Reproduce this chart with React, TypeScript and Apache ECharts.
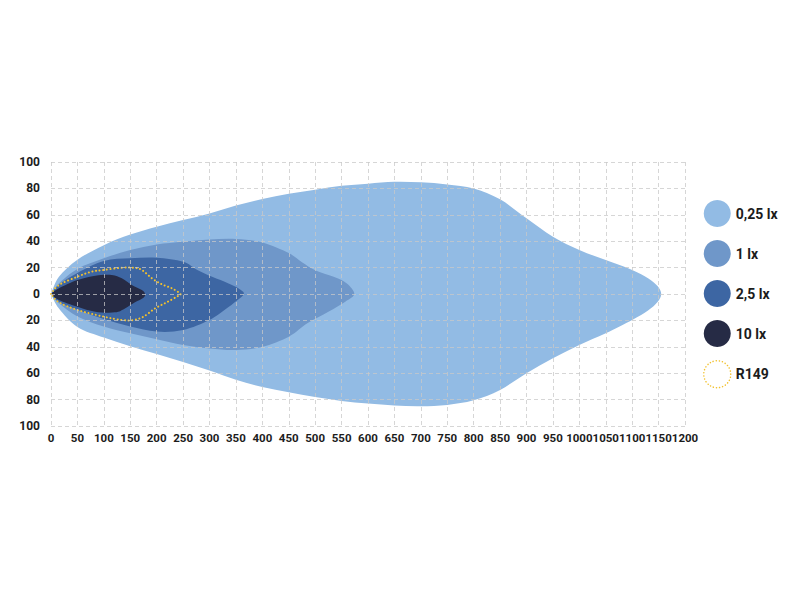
import React, { useEffect, useRef } from 'react';
import * as echarts from 'echarts';

// outlines of each isolux zone: [distance m, lateral m]
const lux025Upper = [[0, 0], [15, 13], [50, 26], [100, 37], [150, 45], [200, 51], [250, 56], [300, 61], [350, 67], [400, 72], [450, 76], [500, 79], [550, 82], [600, 83.6], [650, 85], [700, 84.6], [750, 83], [800, 80], [850, 71.7], [900, 57.3], [950, 43.4], [1000, 33.3], [1050, 25.7], [1100, 18.2], [1130, 12], [1148, 6], [1155, 0]];
const lux025Lower = [[15, -11], [50, -25], [100, -33], [150, -39.5], [200, -45.5], [250, -51.5], [300, -58], [350, -65], [400, -70.5], [450, -74.5], [500, -78], [550, -81], [600, -83], [650, -84.5], [700, -85], [750, -84], [800, -80.5], [850, -72.7], [900, -60], [950, -48.7], [1000, -38.6], [1050, -29.8], [1100, -19.7], [1130, -12.5], [1148, -6]];

const lux1Upper = [[0, 0], [15, 8], [50, 19], [100, 27], [150, 33.3], [200, 37.5], [250, 39.6], [300, 41.3], [350, 41.7], [400, 39], [450, 31], [475, 24], [500, 18], [535, 13], [560, 8], [574, 0]];
const lux1Lower = [[15, -7], [50, -17], [100, -24.7], [150, -29.8], [200, -34.3], [250, -38.6], [300, -41.2], [350, -42.4], [400, -40], [450, -32.3], [486, -22], [525, -13.4], [557, -5.8]];

const lux25Upper = [[0, 0], [15, 7], [50, 16], [100, 25], [150, 27], [200, 27.5], [250, 24.5], [277, 18.2], [305, 13], [336, 8], [358, 3.5], [365, 0]];
const lux25Lower = [[15, -6], [50, -12], [100, -19], [150, -24.7], [200, -28.5], [250, -27.3], [300, -19.7], [329, -12], [352, -5]];

const lux10Upper = [[0, 0], [15, 4.3], [50, 10.6], [84, 13.9], [115, 14.4], [134, 11.9], [153, 6.8], [172, 3], [178, 0]];
const lux10Lower = [[15, -4.5], [50, -9.6], [84, -13.4], [121, -13.9], [140, -10.9], [159, -6.3], [175, -2.8]];

const r149Upper = [[0, 0], [15, 6.8], [50, 13.1], [77, 16.9], [100, 18.2], [134, 19.9], [156, 19.9], [172, 18.2], [191, 11.9], [210, 7.3], [229, 4.3], [245, 0]];
const r149Lower = [[15, -6.3], [50, -12.1], [100, -17.2], [134, -19.7], [156, -19.7], [175, -17.2], [197, -10.9], [219, -6.3], [238, -2]];

const zoneNames = ['0,25 lx', '1 lx', '2,5 lx', '10 lx', 'R149'];
const zoneColors = ['#92bbe4', '#6f97c9', '#3d66a3', '#262b45', '#f2c12e'];

const font = "Roboto, 'DejaVu Sans Condensed', sans-serif";

// closed loop starting and ending at the lamp (origin), sharp there, round at the far tip
const outline = (upper: number[][], lower: number[][]) => [...upper, ...lower.slice().reverse(), upper[0]];

// catmull-rom through pixel points -> svg path
const smoothPath = (pts: number[][]) => {
  let d = `M${pts[0][0]},${pts[0][1]}`;
  for (let i = 0; i < pts.length - 1; i++) {
    const p0 = pts[i - 1] || pts[i];
    const p1 = pts[i];
    const p2 = pts[i + 1];
    const p3 = pts[i + 2] || p2;
    const c1x = p1[0] + (p2[0] - p0[0]) / 6;
    const c1y = p1[1] + (p2[1] - p0[1]) / 6;
    const c2x = p2[0] - (p3[0] - p1[0]) / 6;
    const c2y = p2[1] - (p3[1] - p1[1]) / 6;
    d += ` C${c1x},${c1y} ${c2x},${c2y} ${p2[0]},${p2[1]}`;
  }
  return d + ' Z';
};

const zoneSeries = (name: string, color: string, pts: number[][], dotted = false) => ({
  name,
  type: 'custom',
  itemStyle: { color },
  data: [[0, 0]],
  renderItem: (params: any, api: any) => {
    const points = pts.map(p => api.coord(p));
    return {
      type: 'path',
      shape: { pathData: smoothPath(points) },
      style: dotted
        ? { fill: 'none', stroke: color, lineWidth: 2, lineDash: [0.1, 3.6], lineCap: 'round' }
        : { fill: color }
    };
  }
});

const App: React.FC = () => {
  const chartRef = useRef<HTMLDivElement>(null);

  useEffect(() => {
    if (!chartRef.current) return;
    const chart = echarts.init(chartRef.current, null, { renderer: 'svg' });

    const labelStyle = {
      fontFamily: font,
      fontSize: 11.5,
      fontWeight: 'bold' as const,
      color: '#1c1c1c'
    };
    const gridLine = {
      show: true,
      lineStyle: { color: 'rgba(200,200,200,0.75)', type: [4, 3], width: 1 }
    };

    chart.setOption({
      animation: false,
      grid: { left: 51, right: 115, top: 162, bottom: 174 },
      legend: {
        orient: 'vertical',
        left: 698,
        top: 195,
        itemWidth: 27,
        itemHeight: 27,
        itemGap: 13,
        textStyle: { fontFamily: font, fontSize: 14, fontWeight: 'bold', color: '#1c1c1c' },
        data: [
          { name: zoneNames[0], icon: 'circle' },
          { name: zoneNames[1], icon: 'circle' },
          { name: zoneNames[2], icon: 'circle' },
          { name: zoneNames[3], icon: 'circle' },
          {
            name: zoneNames[4],
            icon: 'circle',
            itemStyle: { color: 'rgba(0,0,0,0)', borderColor: zoneColors[4], borderWidth: 1.5, borderType: [0.1, 3], borderCap: 'round' }
          }
        ]
      },
      xAxis: {
        type: 'value',
        min: 0,
        max: 1200,
        interval: 50,
        z: 10,
        axisLine: { show: false },
        axisTick: { show: false },
        splitLine: gridLine,
        axisLabel: {
          ...labelStyle,
          margin: 6,
          showMinLabel: true,
          showMaxLabel: true,
          hideOverlap: false,
          formatter: (v: number) => String(v)
        }
      },
      yAxis: {
        type: 'value',
        min: -100,
        max: 100,
        interval: 20,
        z: 10,
        axisLine: { show: false },
        axisTick: { show: false },
        splitLine: gridLine,
        axisLabel: { ...labelStyle, fontSize: 12, margin: 11, formatter: (v: number) => String(Math.abs(v)) }
      },
      series: [
        zoneSeries(zoneNames[0], zoneColors[0], outline(lux025Upper, lux025Lower)),
        zoneSeries(zoneNames[1], zoneColors[1], outline(lux1Upper, lux1Lower)),
        zoneSeries(zoneNames[2], zoneColors[2], outline(lux25Upper, lux25Lower)),
        zoneSeries(zoneNames[3], zoneColors[3], outline(lux10Upper, lux10Lower)),
        zoneSeries(zoneNames[4], zoneColors[4], outline(r149Upper, r149Lower), true)
      ]
    });

    return () => {
      chart.dispose();
    };
  }, []);

  return (
    <div
      ref={chartRef}
      style={{ position: 'fixed', left: 0, top: 0, width: 800, height: 600, background: '#fff' }}
    />
  );
};

export default App;
